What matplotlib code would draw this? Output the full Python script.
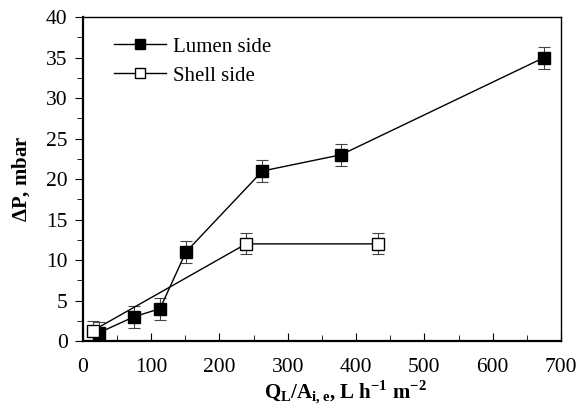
import matplotlib
matplotlib.use('Agg')
import matplotlib.pyplot as plt
from matplotlib.ticker import MultipleLocator
from matplotlib.lines import Line2D

plt.rcParams['font.family'] = ['Liberation Serif', 'DejaVu Serif']
plt.rcParams['mathtext.fontset'] = 'custom'
plt.rcParams['mathtext.rm'] = 'Liberation Serif'
plt.rcParams['mathtext.bf'] = 'Liberation Serif:bold'

# flux vs pressure drop
lumen_x = [23, 75, 113, 151, 263, 378, 675]
lumen_dp = [1.0, 3.0, 4.0, 11.0, 21.0, 23.0, 35.0]
lumen_err = [1.3, 1.35, 1.35, 1.35, 1.35, 1.35, 1.35]

shell_x = [15, 239, 432]
shell_dp = [1.3, 12.0, 12.0]
shell_err = [1.2, 1.3, 1.3]

fig = plt.figure(figsize=(5.79, 4.07), dpi=100)
ax = fig.add_axes([0.143, 0.162, 0.826, 0.796])

ax.errorbar(lumen_x, lumen_dp, yerr=lumen_err, color='black', lw=1.0,
            marker='s', ms=8.5, mfc='black', mec='black',
            ecolor='#444444', elinewidth=0.8, capsize=4, capthick=0.8)
ax.errorbar(shell_x, shell_dp, yerr=shell_err, color='black', lw=1.0,
            marker='s', ms=8.5, mfc='white', mec='black',
            ecolor='#444444', elinewidth=0.8, capsize=4, capthick=0.8)

ax.set_xlim(0, 700)
ax.set_ylim(0, 40)
ax.xaxis.set_major_locator(MultipleLocator(100))
ax.xaxis.set_minor_locator(MultipleLocator(50))
ax.yaxis.set_major_locator(MultipleLocator(5))
ax.yaxis.set_minor_locator(MultipleLocator(2.5))
ax.tick_params(axis='x', which='both', direction='in', top=False, pad=12)
ax.tick_params(axis='y', which='both', direction='out', right=False, pad=5)
ax.tick_params(which='major', length=6, labelsize=15.5)
ax.tick_params(which='minor', length=4)
for sp in ax.spines.values():
    sp.set_linewidth(1.0)
ax.spines['left'].set_linewidth(1.6)
ax.spines['bottom'].set_linewidth(1.6)

ax.set_ylabel(r'$\mathbf{\Delta P}$, mbar', fontsize=15, fontweight='bold', labelpad=10)
ax.set_xlabel(r'$\mathbf{Q_L/A_{i,e}}$, L h$^{\mathbf{-1}}$ m$^{\mathbf{-2}}$',
              fontsize=15, fontweight='bold', labelpad=1, x=0.55)

handles = [
    Line2D([], [], color='black', lw=1.0, marker='s', ms=7.5, mfc='black', mec='black'),
    Line2D([], [], color='black', lw=1.0, marker='s', ms=7.5, mfc='white', mec='black'),
]
ax.legend(handles, ['Lumen side', 'Shell side'], loc='upper left', frameon=False,
          bbox_to_anchor=(0.031, 0.99),
          fontsize=15, handlelength=2.5, borderaxespad=0.4, borderpad=0.4,
          handletextpad=0.3, labelspacing=0.45)

fig.savefig('out.png', dpi=100)
